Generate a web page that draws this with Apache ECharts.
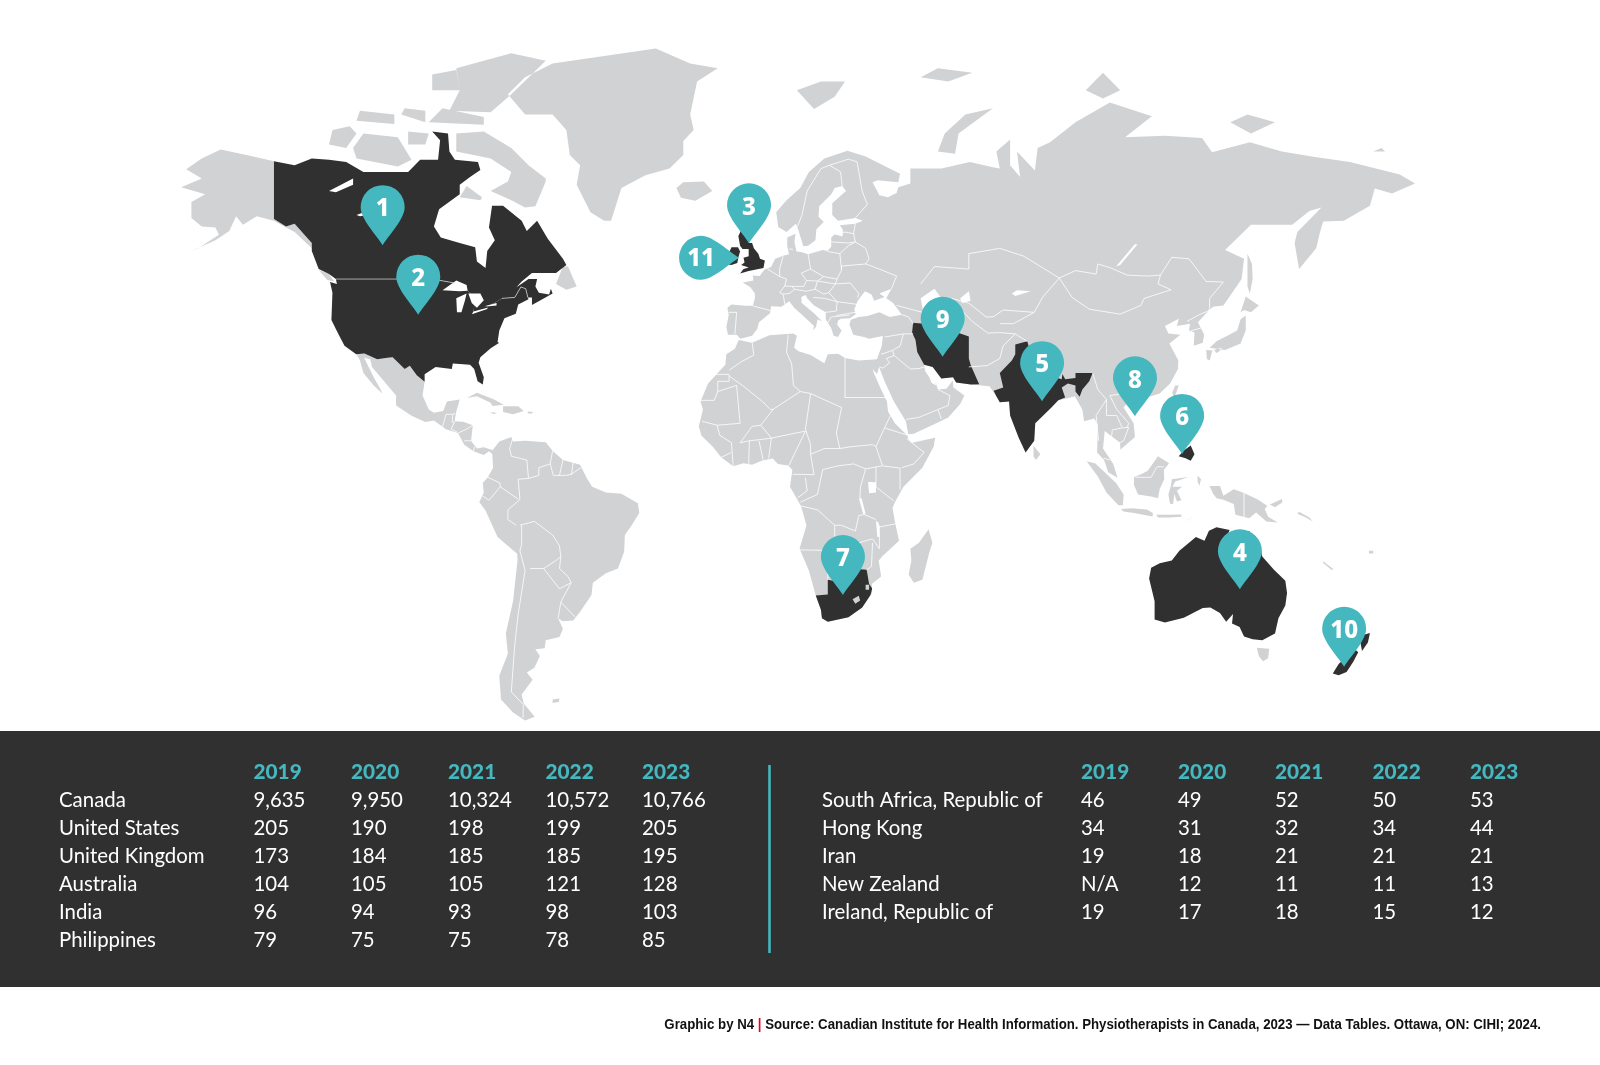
<!DOCTYPE html>
<html>
<head>
<meta charset="utf-8">
<style>
html, body { margin: 0; padding: 0; background: #fff; }
#chart_01 { width: 1600px; height: 1065px; }
</style>
<script src="https://cdn.jsdelivr.net/npm/echarts@6/dist/echarts.min.js"></script>
</head>
<body>
<div id="chart_01"></div>
<script>
// table
var years = ['2019', '2020', '2021', '2022', '2023'];
var leftCountries = ['Canada', 'United States', 'United Kingdom', 'Australia', 'India', 'Philippines'];
var leftValues = [
    ['9,635', '9,950', '10,324', '10,572', '10,766'],
    ['205', '190', '198', '199', '205'],
    ['173', '184', '185', '185', '195'],
    ['104', '105', '105', '121', '128'],
    ['96', '94', '93', '98', '103'],
    ['79', '75', '75', '78', '85']
];
var rightCountries = ['South Africa, Republic of', 'Hong Kong', 'Iran', 'New Zealand', 'Ireland, Republic of'];
var rightValues = [
    ['46', '49', '52', '50', '53'],
    ['34', '31', '32', '34', '44'],
    ['19', '18', '21', '21', '21'],
    ['N/A', '12', '11', '11', '13'],
    ['19', '17', '18', '15', '12']
];
var footerCredit = 'Graphic by N4';
var footerSource = 'Source: Canadian Institute for Health Information. Physiotherapists in Canada, 2023 \u2014 Data Tables. Ottawa, ON: CIHI; 2024.';

// pins, lon/lat of the tip
var pinLabels = ['1', '2', '3', '4', '5', '6', '7', '8', '9', '10', '11'];
var pinCoords = [
    [-109.4, 55.6], [-99.05, 41.5], [-2.9, 55.95], [139.8, -27.1], [82.3, 21.1], [123, 7.6],
    [24.4, -28.5], [109.3, 17.3], [53.4, 31.9], [170.1, -44.8], [-5.8, 53.2]
];

// land outlines, lon/lat
var greyLand = [
    // eurasia
    [[-9,37],[-9.5,38.7],[-8.8,41.5],[-9.2,43],[-8,43.7],[-4,43.4],[-1.8,43.4],[-1.2,45],[-1.2,46],[-2.5,47.3],[-4.7,48.3],[-1.6,48.7],[-1.8,49.7],[0.2,49.6],[1.6,50.9],[3.5,51.4],[4.7,53],[7,53.6],[8.7,53.9],[8.2,55.5],[8.2,57],[10.6,57.7],[10.3,56.2],[10.9,54.4],[12.3,54.3],[14.3,53.9],[18.5,54.7],[19.9,54.5],[21,55.3],[21,57],[22,57.6],[24.3,57.2],[24.4,58.4],[23.5,59.2],[28,59.5],[30.2,60],[28,60.5],[23,60],[21.3,61],[21.3,63],[25.3,65],[24.2,65.8],[22,65.5],[21,64.5],[17.5,62.5],[17.3,60.7],[18.8,59.8],[16.7,58.5],[16.4,56.5],[14.3,55.5],[12.9,55.4],[11.2,58.8],[10.7,59.5],[8,58],[5.6,58.9],[5,61.5],[8,63.5],[12,65.5],[14.5,68],[19,70],[25.7,71.1],[31,70.3],[41,67.7],[40.5,66.4],[34.5,66.7],[33,66.4],[35,64.3],[37.5,64],[40,64.7],[40.5,65.6],[44,66.2],[44,68.5],[53,68.5],[61.3,69.5],[68,68.7],[70,68.5],[69,71],[73,72.7],[73,69],[75.9,67.2],[75,71],[80.2,68.2],[81,71.5],[84.6,72.3],[92,75],[102,77.5],[114.2,75.8],[106.4,73],[118,73.2],[128.8,72.9],[131.7,70.9],[142.7,72.3],[152,71],[161.6,70.2],[171.8,69.5],[186.3,67.6],[190.7,66.2],[184,64.6],[179,65.4],[177.6,62.6],[170,60],[164,59.9],[163,57.8],[162,55],[157,51],[155.7,56],[156.5,58],[163.5,62.3],[160,61.7],[155,59.3],[143,59.3],[135.5,54.7],[141,53],[140.3,49],[135,43.5],[132,43.2],[130.6,42.3],[127.6,39.8],[129.4,37],[129,35.2],[126.4,34.5],[126.6,37.5],[125,38],[125.3,39.5],[121.5,39],[122,40.6],[118,39],[119,37.3],[122.5,37],[119.3,35],[121.9,31],[121.8,29],[119.5,25.5],[116.5,23],[113.5,22.2],[110.5,21.2],[108,21.6],[106,19.5],[108.9,15.5],[109.3,12],[105,8.7],[105,10.5],[102,12.5],[100.5,13.5],[100,9],[103,5],[104.2,1.4],[101.5,2.8],[100.3,6],[98.3,8],[98.5,15],[97.5,16.7],[94.5,16],[94,19],[91.8,22.3],[90,21.9],[87,21.3],[85,19.5],[80.3,15.5],[80,11],[77.5,8],[75.5,11.8],[73,17.5],[72.7,21],[70,20.8],[69,22.3],[67,24.8],[61.6,25.2],[57.3,25.7],[56.4,27],[53,26.7],[50.5,29.5],[48,30],[48.3,28.5],[49.5,27],[50.2,25.6],[51.5,25],[51.2,26.1],[52,24],[54.5,24.2],[56.3,26.2],[56.5,24.5],[59.7,22.5],[58.5,20.4],[55,17],[52,15.7],[45,12.8],[43.4,12.7],[42.7,16],[39.2,21],[36.5,26],[34.9,29.5],[34.3,27.8],[33,29],[32.5,30],[32.3,31.2],[34.3,31.3],[35.7,34.5],[36,36.7],[32,36.1],[30.5,36.5],[27.4,37],[26.3,39.3],[26.7,40.4],[29,41],[31.5,41.2],[35,42],[38,41],[41.5,41.5],[39,44],[37,45],[38.5,47],[35,46],[36.5,45.3],[33.5,44.5],[32.7,45.8],[30.8,46.5],[28.7,44.5],[27.7,42.6],[28.1,41.6],[26.4,40.7],[23.8,40.6],[23,40.2],[22.7,39.3],[24,38],[23,36.5],[21.7,36.8],[21,38.5],[19.4,40.5],[19.4,42],[16,43.5],[14,45],[13.6,45.7],[12.3,45.3],[12.4,44],[16,41.8],[18.4,40],[17,40.5],[16.6,38.8],[15.7,38],[16,39],[12.5,41.5],[10.2,43],[8.8,44.4],[6.5,43.2],[3.5,43.3],[3.2,41.8],[0,39.8],[-0.5,38.3],[-2,36.8],[-5.4,36.1],[-6.5,37]],
    // africa
    [[-5.9,35.8],[-2,35.2],[3,36.9],[10,37.3],[11,36.8],[10.2,34],[11.5,33.2],[15,32.3],[19,30.4],[20,32.5],[23,32.6],[25,31.6],[29,31],[32.3,31.2],[32.6,30],[33.5,27.8],[35.5,24],[37.2,21],[37.5,18.5],[39.5,15.5],[43.2,12.3],[43.3,11.5],[44.5,10.5],[51.2,11.8],[50.8,9.5],[47.5,4],[42,-1],[39.5,-5],[38.8,-6.5],[39.5,-10],[40.7,-15],[36,-18.8],[34.8,-20],[35.5,-24],[32.8,-25.8],[32.9,-28],[30,-31.5],[26,-33.8],[20,-34.8],[18.3,-34],[18,-32],[16.5,-28.6],[14.5,-22.5],[11.8,-17],[13.8,-11],[12.2,-6],[9,-1],[9.7,3.5],[8.5,4.6],[5.5,5],[4,6.4],[1,5.9],[-2,4.8],[-4.5,5.2],[-7.5,4.4],[-11,6.7],[-13.5,9.5],[-16.7,12.3],[-17.5,14.7],[-16.3,19],[-17,21],[-14.8,25.5],[-12,28],[-9.8,30],[-9.5,32.5],[-7,33.8]],
    // madagascar
    [[49.3,-12],[50.4,-15.5],[49.5,-18],[47.5,-24.8],[45,-25.5],[43.5,-23.5],[44.3,-20],[44,-17],[46.5,-15.5]],
    // iceland, svalbard, russian arctic
    [[-24,65.5],[-22,66.4],[-16,66.5],[-13.6,65],[-18.5,63.4],[-22.7,63.9]],
    [[11,79],[16,76.7],[22,78.2],[25,80],[18,80]],
    [[52,71],[57,70.7],[58,73.5],[68,76.8],[60,76],[54,73.5]],
    [[47,80.5],[55,80],[62,81],[52,81.5]],
    [[95,79],[100,78],[105,79],[100,81]],
    [[137,75],[143,73.5],[150,75],[142,76]],
    [[178.5,71],[182,71],[181,71.5]],
    // east asia
    [[142,54],[143.3,52],[143.5,49],[142.7,46],[142,47.5],[142,50]],
    [[131,34],[135.5,33.5],[140,35],[141.5,38],[141.5,41.3],[140,40.5],[139,38],[136.7,37],[133,35.5]],
    [[130,33.5],[131.8,33.4],[131,31],[130.2,31.4]],
    [[140,42],[141.5,45.4],[145.3,43.5],[143,42],[141,42.5]],
    [[132.3,33.5],[134.5,34],[134,33.3],[133,32.8]],
    [[121,25],[122,25],[120.8,22],[120.1,23.2]],
    [[108.7,19.3],[110.5,20],[111,19.5],[109.5,18.2]],
    [[79.8,9.7],[81.8,7.5],[80.5,6],[79.8,7]],
    // indonesia, png, pacific
    [[95.3,5.6],[97.7,5.2],[103.8,0],[106,-3],[105.8,-5.8],[104.5,-5.8],[101,-2.5],[98.5,1.7]],
    [[105.2,-6.8],[108.5,-6.6],[112.7,-6.9],[114.5,-7.8],[114.4,-8.7],[109,-7.8],[106,-7.4]],
    [[109,1.5],[111.5,2.5],[113,3.2],[116,7],[119.2,5.2],[117.7,3.5],[117.8,1],[116.5,-1.5],[116,-4],[114,-3.5],[110.2,-3],[109,-0.5]],
    [[120,1],[124.9,1.6],[121,0.4],[120.2,-1],[123,-1],[121.5,-2],[122.8,-4.5],[121.5,-4.8],[120.7,-2.8],[120.4,-5.5],[119.5,-5.4],[119,-3],[119.8,-0.5]],
    [[115.5,-8.3],[119,-8.3],[122.8,-8.2],[122.8,-8.8],[119,-9],[116,-9]],
    [[123.5,-10.2],[127,-8.4],[125,-9.4]],
    [[127.5,2],[128.5,1],[128,-0.8],[127.5,0.5]],
    [[131,-0.8],[134,-0.8],[135,-3.3],[138,-1.6],[141,-2.6],[145,-4.3],[147.8,-6],[147,-6.8],[148,-8.8],[150.8,-10.3],[147.5,-10],[144.5,-7.7],[142.5,-9.2],[138.5,-8.3],[138,-5.5],[135,-4.4],[133,-4],[132,-2.8]],
    [[148.5,-5.6],[152,-4.2],[152.2,-5],[150,-6.3]],
    [[157,-7.5],[160,-9],[161,-10],[159,-9],[156.5,-8]],
    [[164,-20.2],[167,-22.2],[166.5,-22.4],[164,-20.6]],
    [[177.3,-17.5],[178.6,-17.5],[178.5,-18.2],[177.3,-18.2]],
    [[144.7,-40.7],[148.3,-40.9],[148,-43],[146.5,-43.6],[145.3,-42.5]],
    // south america
    [[-77.5,8.5],[-75.5,10.8],[-72,12],[-71.5,10.8],[-68,11],[-62,10.6],[-60,8.4],[-57,6],[-52,4.8],[-50,1.2],[-48.5,-1],[-44.5,-2.5],[-40,-2.8],[-35.2,-5.3],[-34.8,-7.8],[-37,-11],[-39,-13.5],[-39.2,-17.8],[-41,-22],[-44.5,-23.2],[-48.3,-25.5],[-48.7,-28.5],[-52,-32.5],[-54,-34.5],[-57,-34.7],[-58.4,-34],[-57,-36.4],[-58,-38.3],[-62,-39],[-62.3,-40.8],[-65,-41],[-63.7,-42.5],[-65.3,-45],[-67.5,-46],[-65.8,-47.5],[-69,-50.5],[-68.4,-52.3],[-65.2,-54.8],[-68,-55.5],[-71.5,-54],[-75,-51.5],[-75.5,-46.7],[-73,-42],[-73.6,-37.5],[-71.5,-30],[-70.2,-20],[-70.3,-18.3],[-76,-14],[-79.5,-7.2],[-81.3,-5],[-80,-2.5],[-80.3,0],[-78.8,1.5],[-77.3,4],[-77.5,7]],
    [[-60,-51.5],[-58,-51.3],[-58.2,-52],[-60,-52.2]],
    // caribbean
    [[-84.9,21.9],[-82,23.2],[-77,21.5],[-74.2,20.2],[-77.5,19.9],[-78,20.7],[-82,22.3]],
    [[-74.4,19.8],[-70,19.8],[-68.4,18.6],[-71.5,17.8],[-74.4,18.4]],
    [[-78.3,18.4],[-76.3,18.2],[-77,17.8]],
    [[-67.2,18.5],[-65.7,18.4],[-66,18],[-67.2,18]],
    // alaska, mexico and central america
    [[-141,69.6],[-148,70.4],[-156.5,71.3],[-162,70],[-166.5,68.4],[-162,67],[-164,66.5],[-168,65.6],[-161,64.5],[-165,63.2],[-165,60.5],[-162,59],[-158,58.8],[-157,57.5],[-163,55],[-165,54.5],[-158,56.5],[-154,58.2],[-152,60.8],[-150,59.3],[-146,60.8],[-141,60],[-138,59],[-135,58],[-130,55],[-130,56],[-135,59.5],[-137.5,59],[-141,60.3]],
    [[-117,32.5],[-114.7,32.7],[-111,31.3],[-108,31.7],[-106.5,31.8],[-103,29],[-101.5,29.8],[-99.5,27.5],[-97.2,25.9],[-97.8,22.5],[-96,19],[-94.5,18.2],[-91.8,18.6],[-90.7,21],[-87,21.5],[-88,18.5],[-88.5,16],[-86,15.9],[-83.2,15],[-83.7,11],[-82,9],[-80,9.3],[-77.5,8.6],[-77.5,7.5],[-78.5,8.3],[-80,7.3],[-83,8.3],[-85.7,10],[-87.5,13],[-91,14],[-94.5,16.2],[-97,15.8],[-101,17.4],[-105.5,20],[-105.5,22.5],[-109,26],[-112.5,29.5],[-113,31.3],[-114.8,31.7],[-112,27],[-110,24],[-109.5,23],[-112,25],[-115,28],[-116,31]],
    // canadian arctic, newfoundland
    [[-62,66.5],[-65,62.5],[-68,62.3],[-72,63.5],[-78,65],[-73,66.5],[-72,68],[-78,70],[-88,71],[-88,73.5],[-80,73.8],[-72,71.5],[-67,69],[-62,67]],
    [[-117,70],[-105,68.8],[-101,69.8],[-105,73],[-115,73.5],[-118,71.5]],
    [[-125,72],[-120,71.5],[-117,73.5],[-119,74.5],[-124,74]],
    [[-90,76.5],[-78,76.3],[-72,78.5],[-62,82.3],[-72,83.1],[-88,81.5],[-87,79]],
    [[-96,75],[-80,74.7],[-80,75.7],[-92,76.8]],
    [[-95,79],[-87,79],[-88,81.3],[-95,80.8]],
    [[-117,75.2],[-106,74.8],[-106,76],[-116,76.5]],
    [[-102,72],[-97,72],[-96,73.5],[-102,73.8]],
    [[-104,76],[-97,75],[-97,76.5],[-103,76.8]],
    [[-87,64],[-81,63.5],[-80.5,64],[-85,65.8]],
    [[-59,48],[-57,51.5],[-55.5,51.5],[-53,47.5],[-56,46.8]],
    [[-128,50.8],[-125,50],[-123.5,48.5],[-125.5,48.8]],
    // greenland
    [[-73,78.5],[-68,80.5],[-60,82],[-45,82.8],[-30,83.6],[-20,82],[-12,81.5],[-18,80],[-20,76],[-19,74],[-22,72.5],[-22,70.5],[-26,68.5],[-33,67.5],[-40,65.5],[-43,60],[-45,60],[-49,61.5],[-53,66],[-52,69],[-55,70.5],[-56,74],[-60,76],[-68,76]]
];

var canadaShape = [
    [[-141,69.6],[-135,69],[-130,70],[-125,69.8],[-120,69.5],[-115,68],[-108,68],[-102,68],[-98.5,69.8],[-93.3,69.8],[-92.7,72.6],[-95,73.8],[-90.4,73.5],[-90,71],[-88.4,69.8],[-81.7,69.5],[-81,68.3],[-84,67.2],[-87,66],[-87,64.5],[-93,62],[-94.5,59],[-92.5,57],[-87,56],[-82.5,55.2],[-82,52.5],[-79.5,51.2],[-79,54.5],[-76.8,56.5],[-78.5,58.8],[-77.6,62.6],[-74.4,62.6],[-69,60],[-67.5,58.2],[-64.5,60],[-61.4,56.8],[-57,53],[-56,51.8],[-59,50.2],[-66,50.2],[-69,48.5],[-70.5,47.3],[-67,49],[-64.5,49],[-65,47.5],[-64,46.2],[-61,45.8],[-60.5,47],[-60,46],[-63.5,44.6],[-66,43.6],[-66,45.2],[-67.2,45.2],[-67.8,47],[-69.2,47.4],[-71,45.2],[-74.7,45],[-76.5,44.2],[-79,43.3],[-79,42.8],[-83,42],[-82.5,45.3],[-84.5,46.5],[-88.5,48.2],[-95,49],[-123,49],[-125,50],[-128,51],[-130,54.5],[-130,56],[-135,59.5],[-137.5,59],[-141,60.3]]
];
var usaShape = [
    [[-123,49],[-95,49],[-88.5,48.2],[-84.5,46.5],[-82.5,45.3],[-83,42],[-79,42.8],[-79,43.3],[-76.5,44.2],[-74.7,45],[-71,45.2],[-69.2,47.4],[-67.8,47],[-67.2,45.2],[-67,44.8],[-70,43.7],[-70.7,41.7],[-74,40.7],[-75.5,38],[-76,35.3],[-75.5,35.2],[-78,33.9],[-81,31.8],[-81.5,30.5],[-80,27],[-80.3,25.2],[-81.8,26],[-82.8,29],[-84,30],[-89,30.3],[-89.3,29],[-94,29.5],[-97.2,27.7],[-97.2,25.9],[-99.5,27.5],[-101.5,29.8],[-103,29],[-106.5,31.8],[-108,31.7],[-111,31.3],[-114.7,32.7],[-117.1,32.5],[-120.5,34.5],[-122.5,37.5],[-124.3,40.3],[-124,46.2],[-124.7,48.4],[-122.7,48]]
];
var ukShape = [
    [[-5.5,50.1],[-3,50.6],[1.3,51.2],[1.7,52.7],[0.3,53],[-0.2,54],[-1.5,55],[-2,56],[-3,56],[-2,57.6],[-4,57.7],[-3,58.6],[-5,58.6],[-6,57.3],[-5.5,55.5],[-4.8,54.9],[-3,54.9],[-3,53.5],[-4.5,53.2],[-4.2,52.3],[-5.2,51.8],[-3,51.3],[-4.5,51]]
];
var irelandShape = [
    [[-10,52],[-10,54],[-8.5,54.5],[-8,55.2],[-6.1,55.2],[-5.5,54.4],[-6,53.3],[-6.3,52.2],[-8,51.8]]
];
var australiaShape = [
    [[114,-21.8],[113.4,-24.5],[115,-30],[115,-34.3],[118,-35],[123.5,-33.9],[129,-31.6],[131.2,-31.5],[134,-32.8],[135.8,-34.8],[137.8,-33],[137.5,-35.2],[139.7,-36],[141,-38.2],[143.5,-38.8],[146.3,-39],[150,-37.5],[151,-34],[153,-31],[153.5,-28],[153,-25],[149.7,-22.3],[146.3,-19],[145.3,-15],[143.5,-14],[142.5,-12.5],[141.6,-13],[141,-16.5],[139.5,-17.6],[135.6,-15],[136.8,-12.2],[133,-11.5],[130.8,-12.4],[129.5,-15],[127,-14],[125,-15.5],[122.2,-17.5],[120,-20],[116.5,-20.7]]
];
var indiaShape = [
    [[74.5,34.8],[78,35.5],[79,32.5],[78.8,31],[81,30],[80,28.7],[84,27.5],[88,26.5],[88.2,27.8],[89,26.5],[92,26.8],[92,28],[97,28],[96,26],[94,24],[93.2,22.2],[92,23.5],[92,25],[89.8,25.5],[88,24.5],[89,22],[87,21.3],[85,19.5],[80.3,15.5],[80,11],[77.5,8],[75.5,11.8],[73,17.5],[72.7,21],[70,20.8],[69,22.3],[68.2,23.7],[71,24.5],[70,28],[73.5,31],[74.5,32.5]]
];
var philippinesShape = [
    [[122,7],[123.5,8.5],[125.5,9.8],[126.6,7.5],[125.5,5.8],[124,6.5]],
    [[120.5,18.5],[122.2,18.4],[122,16],[124,13],[121,13.8],[120,16]]
];
var southAfricaShape = [
    [[16.5,-28.6],[20,-28.4],[20,-24.8],[23,-25.3],[25.5,-25.6],[29.3,-22.2],[31.3,-22.3],[32,-25.8],[32.9,-26.9],[32.4,-28.5],[30,-31.5],[26,-33.8],[20,-34.8],[18.3,-34],[18,-32]]
];
var iranShape = [
    [[44.8,39.7],[48,39.5],[49,37.6],[52,36.8],[54,37],[56,38],[61,36.6],[61,31.5],[61.5,30],[63,27.2],[64,25.3],[61.6,25.2],[57.3,25.7],[56.4,27],[53,26.7],[50.5,29.5],[48,30],[46,33],[45.5,35.8],[44.5,37.5]]
];
var newZealandShape = [
    [[172.7,-40.7],[174.2,-41.7],[172.8,-43.7],[170.8,-45.9],[168.5,-46.6],[166.8,-46.2],[168.5,-44.2],[171.3,-42.2]],
    [[174.8,-38],[177.6,-37.4],[177,-39.5],[175.3,-41.4],[174.9,-39.8]]
];
var enclaves = [
    [[27.2,-29.5],[29,-28.7],[29.4,-29.8],[28,-30.6]],
    [[31,-26],[32,-26],[32,-27.2],[31,-27.2]]
];
var waterBodies = [
    [[-92,46.7],[-88,48.7],[-85,47.8],[-84.7,46.6],[-87,46.5]],
    [[-87.8,42],[-88,45],[-85,46],[-85.5,44.5],[-86.5,42]],
    [[-84.5,46],[-81,46],[-80,44.6],[-82,43],[-83.5,44]],
    [[-83.5,41.6],[-79,42.7],[-79,43],[-83,42.2]],
    [[-79.8,43.3],[-76.3,44],[-76.3,43.5],[-78.5,43.3]],
    [[-125,65],[-118,67],[-118,66],[-123,64.8]],
    [[-117,61],[-109,62.8],[-112,61.2],[-116,60.8]],
    [[31.7,0.3],[34,0.2],[34,-2.5],[32,-2.7]],
    [[29.2,-4],[29.8,-4],[31,-8],[30.3,-8]],
    [[34,-9.8],[34.8,-10.5],[35,-14],[34.4,-14]],
    [[103.8,51.5],[105,51.8],[110,55.7],[109.3,55.8]],
    [[47,45],[51,47],[53,45],[51,44.5],[53,41],[54,37],[50.5,37],[49,38.5],[49.5,40.5],[47.5,43]],
    [[58.5,45],[61,46.5],[61.5,44.5],[59,44]],
    [[73.5,46],[75,46.7],[79,46.5],[74.5,45.5]]
];

// country borders on grey land
var borderLines = [
    // south america
    [[-71.5,11.8],[-72.5,9],[-72,7],[-67.5,6],[-67,1.2],[-64,2],[-64,4],[-60.7,5],[-60,8.4]],
    [[-57,6],[-58,2]], [[-54,5.5],[-54.5,2.3]],
    [[-60.7,5],[-59.8,2],[-56,2],[-54.5,2.3],[-52,3.9],[-51.6,4]],
    [[-67,1.2],[-70,1],[-69.5,-4.3],[-73,-7],[-73,-9.5],[-70.6,-11]],
    [[-78.8,1.5],[-75.3,0],[-75.2,-1],[-70,-4.2]],
    [[-80.3,-3.4],[-78.5,-4.5],[-75.2,-1]],
    [[-69,-11],[-69,-16],[-69.5,-17.5],[-68,-22.5],[-70,-33],[-71,-40],[-72,-50],[-68.5,-52.5],[-68.6,-55]],
    [[-69.5,-11],[-65.3,-10],[-60,-13.5],[-58,-16.3],[-57.6,-19],[-59,-20],[-62.6,-22],[-66.5,-22]],
    [[-57.6,-19],[-58,-22],[-55.5,-24],[-54.6,-25.5],[-57.6,-30.2],[-53.5,-33.7]],
    [[-62.6,-22],[-58,-27],[-54.6,-25.5]],
    [[-58.4,-34],[-57.6,-30.2]],
    // central america
    [[-92,14.5],[-91,17.8],[-89,17.8],[-88.3,18]],
    [[-89,17.8],[-89.2,15.8],[-88.5,15.8],[-89.5,14],[-87.8,13.3]],
    [[-87.5,13],[-85,14],[-83.2,15]],
    [[-85.7,11],[-83.7,11]], [[-83,8.3],[-82.7,9.5]],
    // africa
    [[-2,35.2],[-1.5,32.3],[-5,30.8],[-8.7,28.7]],
    [[-8.7,27.7],[-13,27.7]],
    [[-8.7,27.7],[-8.7,26],[-12,26],[-12,23.5],[-13,21.3],[-17,21.3]],
    [[8.5,37],[8,33],[9.5,30.2],[10,25],[12,23.5],[15,23],[24,19.5]],
    [[-8.7,27.3],[-4.8,25],[1,21],[3.3,19],[4.2,19.1],[12,23.5]],
    [[-12,23.5],[-6.5,25],[-5.5,15.5],[-12.2,15],[-16.5,16]],
    [[-12.2,15],[-11.4,12.4],[-8,10.5],[-7.5,4.4]],
    [[25,31.6],[25,22],[36.9,22]],
    [[15,23],[13.5,14],[15,10],[15,7.5],[19,9],[23.5,9]],
    [[24,19.5],[22.5,13],[23.5,9],[27,9.5],[33,10],[34,9.5]],
    [[3.6,11.7],[13.5,13.5]], [[3.6,11.7],[0.5,15],[4.2,19.1]],
    [[2.8,6.4],[3.6,11.7]], [[8.7,4.6],[13.5,13.5]],
    [[1.2,6.1],[0,11]], [[-3,5],[-2.8,11]],
    [[-5.5,10.5],[-2.8,11],[2,11.5],[3.6,11.7]],
    [[-5.5,10.5],[-2,14.7],[0.5,15]],
    [[-11,6.7],[-8,8]],
    [[38.5,18],[36.5,14.3],[34,9.5]], [[36.5,14.3],[43,12.5]],
    [[27.5,5],[31,3.7],[34,4.2],[35.9,4.5],[34,9.5]],
    [[43,11.5],[48,8],[45,5],[41.5,4]],
    [[41,-1.7],[41,3.9],[35.9,4.5]],
    [[34,4.2],[34,-1],[39.2,-4.7]],
    [[18.5,3.5],[23,4.5],[27.5,5]],
    [[12,-5],[17,-3],[18.5,3.5]],
    [[9.8,2.3],[16,2.2],[15,7.5]],
    [[11.2,-3.9],[14,-2],[13.5,1.4]],
    [[31,3.7],[29.5,-1],[29.3,-4.5],[30.5,-8.2],[34,-9.5]],
    [[12.2,-6],[17,-7],[22,-11],[24,-11],[28,-12.5],[29,-8.5],[30.5,-8.2]],
    [[22,-11],[22,-16],[23.3,-17.5],[11.8,-17.3]],
    [[21,-18],[21,-22],[20,-22],[20,-24.8]],
    [[23.3,-17.5],[25.3,-17.8],[29,-15.5],[33,-14.5],[35,-17],[35,-11]],
    [[33,-15.5],[32.7,-21.5],[31.3,-22.3]],
    [[25.3,-17.8],[29.3,-22.2]],
    [[34.7,-11.5],[40.4,-10.5]],
    // europe
    [[-1.8,43.4],[3.2,42.4]],
    [[-8.8,42],[-6.5,42],[-7,37.2]],
    [[2.5,51],[6,49.5],[8,49],[7.5,47.6],[6,46.2],[7,45.9],[7.5,43.8]],
    [[7.5,47.6],[9.5,47.5],[10.4,46.9],[8.8,46],[7,45.9]],
    [[7,53.5],[6,51],[6,49.5]],
    [[8.7,54.9],[9.9,54.8]],
    [[14.3,53.9],[15,51],[12.3,50.2],[13.8,48.7],[17,48.6],[18.8,49.5],[15,51]],
    [[9.5,47.5],[13,47.5],[13.8,48.7]],
    [[10.4,46.9],[13.7,46.5],[16.3,46.9],[17,48.6],[22.2,48]],
    [[18.8,49.5],[22.7,49],[24,50.8],[23.5,54],[19.9,54.4]],
    [[21,56.2],[26,56],[28,56.2]], [[22,57.6],[25,58],[27.5,57.7]],
    [[28,59.5],[27.5,57.7],[28,56.2],[26,55.5],[23.5,54]],
    [[28,56.2],[31,55],[32,53],[31,52],[24,51.6],[24,50.8]],
    [[31,52],[35,51],[40,49.6],[38.5,47]],
    [[22.7,49],[22.2,48],[26.6,48.2],[29,46],[28.7,45.2]],
    [[22.2,48],[20.3,46.2],[22.7,44.3],[28.7,43.7]],
    [[16.3,46.9],[18.8,45.9],[20.3,46.2]],
    [[15.8,45.2],[19,45],[22.7,44.3],[22.5,42.3],[19.4,42]],
    [[20,39.7],[21,41],[26.4,41.4]],
    [[22.5,41.3],[26.4,41.8],[28,42]],
    [[11.2,59],[12.5,61],[14,65],[18,68.5],[20.5,69],[26,69.9],[28.5,69.5],[30,65],[31.5,62.8],[28,60.5]],
    [[24.2,65.8],[23.7,68],[20.5,69]],
    // asia
    [[47,48],[51,51.5],[61,51],[61,54],[70,55],[77,53.5],[87.3,49.2],[92,50.7],[98,50],[98.5,52],[102,51.3],[107,49.8],[113,49.6],[116.7,49.8],[120,53.3],[125,53],[130,48.5],[135,48.4],[131,45],[131,42.8],[130.6,42.3]],
    [[87.3,49.2],[91,45.2],[96,42.7],[105,41.6],[111,43.5],[112,45],[119.8,46.8],[116,48],[116.7,49.8]],
    [[124.4,40],[128,41.5],[130.6,42.3]],
    [[125.5,37.9],[128.4,38.5]],
    [[87.3,49.2],[82.5,45.3],[80,42],[74,39.5],[70,39.5]],
    [[53,42],[56,41.3],[56,45],[61,44],[66,41],[68,41],[71,42.5],[80,42]],
    [[53,42],[58.6,42.7],[62,40],[66.5,37.4],[70,37.5],[74.5,37.2],[71,34.5],[70,31.5],[66.3,29.8],[61,29.5]],
    [[74.5,37.2],[78,35.5]],
    [[97,28],[98.5,24],[101,21.5],[98,17.5],[98.7,11]],
    [[102,22.5],[104,19],[107.5,15.5],[107,14.5]],
    [[102,22.5],[106,23],[108,21.6]],
    [[101,21.5],[101,17.5],[104,17.5],[105.5,14.5]],
    [[102.5,12],[102.7,13.8],[105.5,14.3],[107.5,14.5],[106,11],[104.5,10.4]],
    [[100.2,6.5],[102,6]],
    [[44.8,37.2],[42,37.2],[36.5,36.5]],
    [[42,37.2],[41,34.4],[38.8,33.4],[35.5,32.5]],
    [[38.8,33.4],[39.3,32.2],[37,31.5],[38,30.5],[36,29.2],[35,29.5]],
    [[39.3,32.2],[44,29],[46.5,29.1],[48,29.5]],
    [[42.8,16.5],[46.5,17],[52,19],[55,20],[55.5,22.5],[52,24]],
    [[52,19],[53,16.6]],
    [[41.5,41.5],[43.5,41],[44.8,39.5]],
    [[40,43.5],[44,42.7],[48.5,41.8]],
    [[141,-2.6],[141,-9.2]],
    [[109.5,1.5],[114,1.5],[115.5,4],[116,4.3],[117.7,4.2]]
];
// canada - us border, pale on the dark fill
var usCanadaLine = [
    [[-123,49],[-95,49],[-88.5,48.2]],
    [[-74.7,45],[-71,45.2],[-69.2,47.4],[-67.8,47],[-67.2,45.2]]
];

function feature(name, polys) {
    return {
        type: 'Feature',
        properties: { name: name },
        geometry: {
            type: 'MultiPolygon',
            coordinates: polys.map(function (p) {
                return [p.concat([p[0]])];
            })
        }
    };
}

echarts.registerMap('world', {
    type: 'FeatureCollection',
    features: [
        feature('Land', greyLand),
        feature('Canada', canadaShape),
        feature('United States', usaShape),
        feature('United Kingdom', ukShape),
        feature('Ireland', irelandShape),
        feature('Australia', australiaShape),
        feature('India', indiaShape),
        feature('Philippines', philippinesShape),
        feature('South Africa', southAfricaShape),
        feature('Iran', iranShape),
        feature('New Zealand', newZealandShape),
        feature('Enclaves', enclaves),
        feature('Water', waterBodies)
    ]
});

function millerY(lat) {
    return 1.25 * Math.log(Math.tan(Math.PI / 4 + 0.4 * lat * Math.PI / 180));
}

var DARK = '#303030';
var GREY = '#d1d2d4';
var TEAL = '#45b7bf';
var TABLE_FONT = 'Lato, sans-serif';

var darkNames = ['Canada', 'United States', 'United Kingdom', 'Ireland', 'Australia', 'India', 'Philippines', 'South Africa', 'Iran', 'New Zealand'];
var regions = darkNames.map(function (n) {
    return { name: n, itemStyle: { areaColor: DARK, borderWidth: 0 } };
});
regions.push({ name: 'Water', itemStyle: { areaColor: '#fff', borderWidth: 0 } });

// table text
var graphics = [];
graphics.push({
    type: 'rect', z: 1, silent: true,
    shape: { x: 0, y: 731, width: 1600, height: 256 },
    style: { fill: DARK }
});
graphics.push({
    type: 'rect', z: 2, silent: true,
    shape: { x: 768.2, y: 765, width: 2.6, height: 188 },
    style: { fill: TEAL }
});

function cell(text, x, y, color, weight, size) {
    graphics.push({
        type: 'text', z: 3, silent: true, x: x, y: y,
        style: {
            text: text, fill: color,
            font: weight + ' ' + size + 'px ' + TABLE_FONT,
            textAlign: 'left', textVerticalAlign: 'middle'
        }
    });
}

function addTable(labelX, colX, countries, values) {
    years.forEach(function (year, c) {
        cell(year, colX[c], 772.5, TEAL, 900, 20.8);
    });
    countries.forEach(function (name, r) {
        var y = 800 + r * 28;
        cell(name, labelX, y, '#fff', 400, 20.4);
        values[r].forEach(function (v, c) {
            cell(v, colX[c], y, '#fff', 400, 20.4);
        });
    });
}
addTable(59, [253.5, 351, 448, 545.5, 642], leftCountries, leftValues);
addTable(822, [1081, 1178, 1275, 1372.5, 1470], rightCountries, rightValues);

// condensed look for the footer: a normal bold face squeezed sideways
graphics.push({
    type: 'text', z: 3, silent: true, x: 1541, y: 1025, scaleX: 0.913,
    style: {
        text: '{a|' + footerCredit + ' }{r||}{a| ' + footerSource + '}',
        textAlign: 'right', textVerticalAlign: 'middle',
        rich: {
            a: { font: 'bold 14.5px "Liberation Sans", sans-serif', fill: '#111' },
            r: { font: 'bold 14.5px "Liberation Sans", sans-serif', fill: '#e4002b' }
        }
    }
});

var pinPath = 'path://M22 60C16 50 0 34 0 22A22 22 0 1 1 44 22C44 34 28 50 22 60Z';

var dom = document.getElementById('chart_01');
var chart1 = echarts.init(dom);
var option = {
    animation: false,
    backgroundColor: '#fff',
    geo: {
        map: 'world',
        silent: true,
        roam: false,
        projection: {
            project: function (p) { return [p[0] * 3.44, -219.1 * millerY(p[1])]; },
            unproject: function (p) {
                var lat = (Math.atan(Math.exp(-p[1] / 219.1 / 1.25)) - Math.PI / 4) / 0.4 * 180 / Math.PI;
                return [p[0] / 3.44, lat];
            }
        },
        boundingCoords: [[-170, 85], [195, -60]],
        layoutCenter: [802, 389.85],
        layoutSize: 1255.6,
        itemStyle: { areaColor: GREY, borderWidth: 0 },
        emphasis: { disabled: true },
        select: { disabled: true },
        regions: regions
    },
    graphic: { elements: graphics },
    series: [
        {
            type: 'lines',
            coordinateSystem: 'geo',
            polyline: true,
            silent: true,
            z: 3,
            lineStyle: { color: '#fff', width: 0.8, opacity: 1 },
            data: borderLines.map(function (l) { return { coords: l }; })
        },
        {
            type: 'lines',
            coordinateSystem: 'geo',
            polyline: true,
            silent: true,
            z: 3,
            lineStyle: { color: '#c9cacc', width: 0.8, opacity: 1 },
            data: usCanadaLine.map(function (l) { return { coords: l }; })
        },
        {
            type: 'scatter',
            coordinateSystem: 'geo',
            silent: true,
            z: 5,
            symbol: pinPath,
            symbolSize: [44, 60],
            symbolKeepAspect: false,
            itemStyle: { color: TEAL, opacity: 1 },
            label: {
                show: true,
                position: 'inside',
                offset: [0, -5.5],
                formatter: '{b}',
                color: '#fff',
                fontFamily: 'Noto Sans, sans-serif',
                fontWeight: 800,
                fontSize: 24
            },
            data: pinLabels.map(function (label, i) {
                var item = { name: label, value: pinCoords[i], symbolOffset: [0, '-50%'] };
                if (label === '11') {
                    // this one lies on its side, tip to the right
                    item.symbolRotate = 90;
                    item.symbolOffset = [-30, 0];
                    item.label = { offset: [-8, 1.5] };
                }
                return item;
            })
        }
    ]
};
chart1.setOption(option, true);
</script>
</body>
</html>
